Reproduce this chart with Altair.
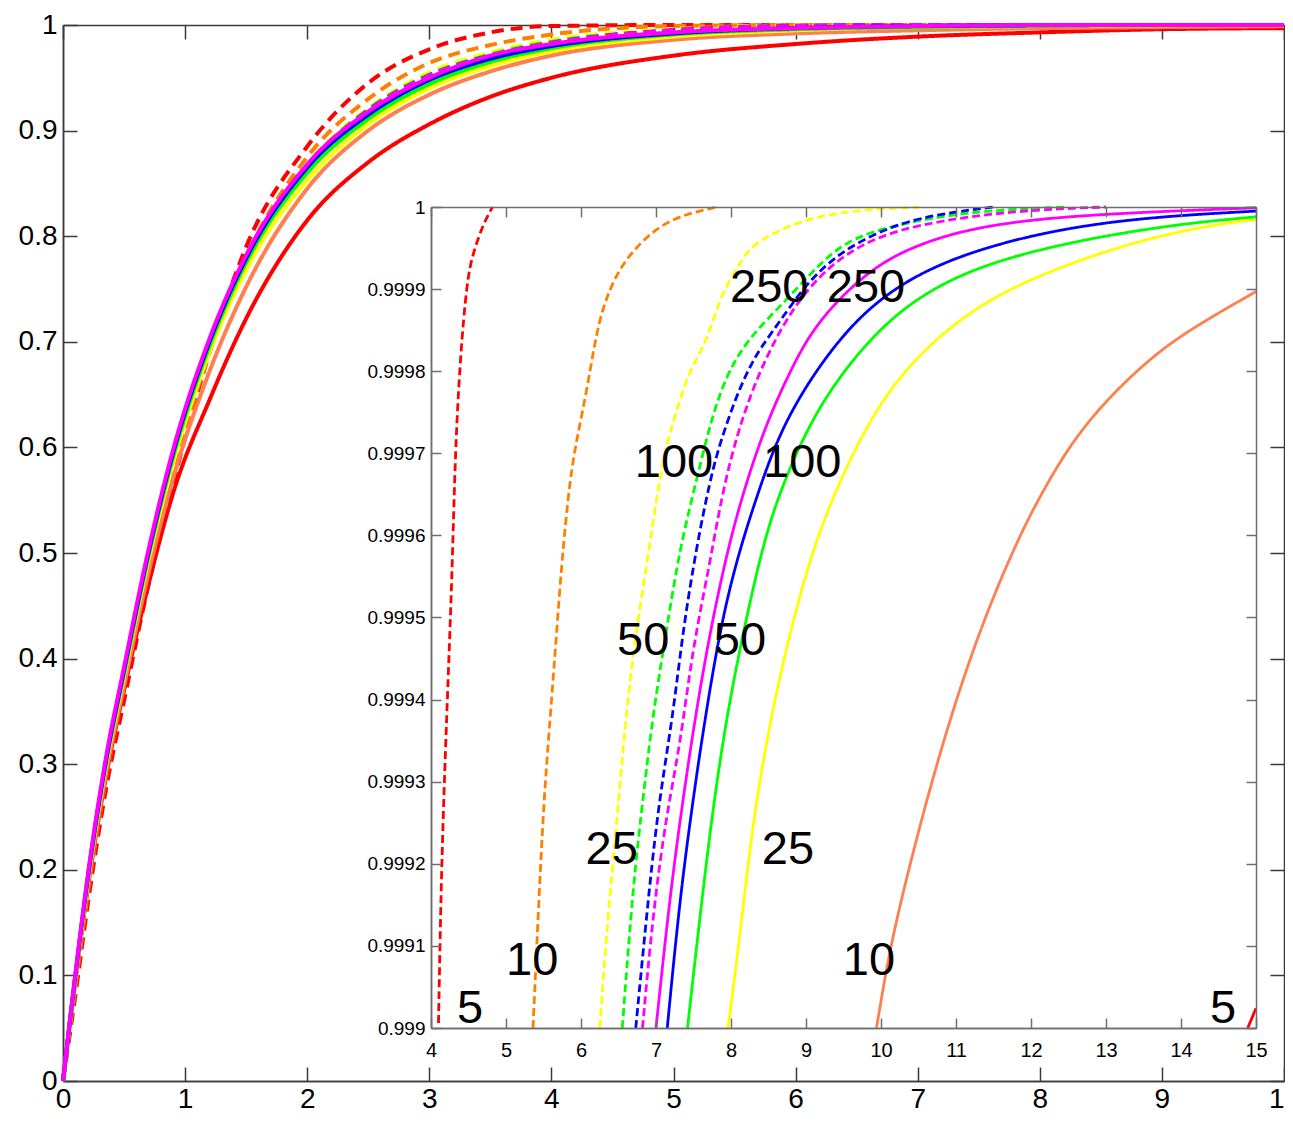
import altair as alt
import pandas as pd

# ---------------- data ----------------
MAIN_X = [0, 0.1, 0.2, 0.35, 0.5, 0.7, 0.9, 1.2, 1.5, 2.0, 2.5, 3.0, 3.5, 4.0, 5.0, 6.0, 7.0, 8.0, 9.0, 10.0]
MAIN_D5 = [0, 0.080, 0.165, 0.275, 0.360, 0.470, 0.565, 0.690, 0.790, 0.885, 0.945, 0.977, 0.993, 0.999, 1.0, 1.0, 1.0, 1.0, 1.0, 1.0]
MAIN_D10 = [0, 0.088, 0.175, 0.285, 0.372, 0.480, 0.575, 0.690, 0.780, 0.875, 0.930, 0.964, 0.981, 0.991, 0.999, 1.0, 1.0, 1.0, 1.0, 1.0]
MAIN_D25 = [0, 0.094, 0.182, 0.293, 0.380, 0.490, 0.585, 0.695, 0.779, 0.868, 0.921, 0.955, 0.974, 0.986, 0.996, 0.9995, 1.0, 1.0, 1.0, 1.0]
MAIN_D50 = [0, 0.095, 0.184, 0.296, 0.383, 0.494, 0.588, 0.697, 0.780, 0.867, 0.920, 0.953, 0.972, 0.984, 0.995, 0.9992, 0.9999, 1.0, 1.0, 1.0]
MAIN_D100 = [0, 0.096, 0.186, 0.298, 0.385, 0.496, 0.590, 0.698, 0.780, 0.866, 0.919, 0.952, 0.971, 0.983, 0.995, 0.999, 0.9999, 1.0, 1.0, 1.0]
MAIN_D250 = [0, 0.097, 0.187, 0.299, 0.386, 0.497, 0.591, 0.699, 0.781, 0.866, 0.919, 0.952, 0.971, 0.983, 0.995, 0.999, 0.9999, 1.0, 1.0, 1.0]
MAIN_S5 = [0, 0.094, 0.180, 0.287, 0.370, 0.470, 0.556, 0.645, 0.722, 0.815, 0.870, 0.906, 0.932, 0.950, 0.971, 0.982, 0.989, 0.993, 0.996, 0.997]
MAIN_S10 = [0, 0.095, 0.182, 0.290, 0.374, 0.481, 0.570, 0.672, 0.752, 0.845, 0.900, 0.934, 0.956, 0.971, 0.986, 0.992, 0.995, 0.997, 0.998, 0.999]
MAIN_S25 = [0, 0.097, 0.186, 0.297, 0.383, 0.493, 0.585, 0.690, 0.768, 0.853, 0.906, 0.940, 0.961, 0.975, 0.989, 0.995, 0.998, 0.999, 0.9996, 0.9998]
MAIN_S50 = [0, 0.098, 0.188, 0.300, 0.386, 0.497, 0.590, 0.696, 0.775, 0.860, 0.911, 0.944, 0.965, 0.978, 0.991, 0.996, 0.998, 0.9995, 0.9999, 1.0]
MAIN_S100 = [0, 0.099, 0.190, 0.302, 0.389, 0.500, 0.594, 0.700, 0.779, 0.865, 0.915, 0.948, 0.968, 0.980, 0.992, 0.997, 0.999, 0.9997, 1.0, 1.0]
MAIN_S250 = [0, 0.100, 0.192, 0.305, 0.392, 0.503, 0.597, 0.703, 0.782, 0.868, 0.918, 0.950, 0.971, 0.982, 0.993, 0.997, 0.999, 1.0, 1.0, 1.0]

# inset (zoom on the upper tail)
IN_D5_X = [4.10, 4.14, 4.21, 4.28, 4.32, 4.39, 4.48, 4.56, 4.70, 4.82]
IN_D5_Y = [0.999006, 0.999201, 0.999384, 0.999546, 0.999696, 0.999818, 0.999911, 0.999944, 0.99998, 1.0]
IN_D10_X = [5.36, 5.45, 5.52, 5.63, 5.74, 5.85, 5.94, 6.08, 6.21, 6.34, 6.56, 7.05, 7.51, 7.81]
IN_D10_Y = [0.999, 0.99918, 0.9993, 0.999424, 0.999566, 0.999667, 0.999716, 0.999777, 0.99985, 0.999891, 0.999935, 0.99998, 0.999994, 1.0]
IN_D25_X = [6.25, 6.36, 6.47, 6.56, 6.70, 6.88, 7.05, 7.19, 7.32, 7.45, 7.59, 7.72, 7.85, 7.96, 8.17, 8.34, 8.92, 9.59, 10.5]
IN_D25_Y = [0.999, 0.99914, 0.999241, 0.999343, 0.999464, 0.999566, 0.999672, 0.999728, 0.999765, 0.999801, 0.999822, 0.99985, 0.999887, 0.999907, 0.99994, 0.999958, 0.999984, 0.999996, 1.0]
IN_D50_X = [6.55, 6.70, 6.83, 6.96, 7.14, 7.32, 7.54, 7.72, 7.94, 8.25, 8.70, 9.14, 9.59, 10.48, 11.36, 12.5]
IN_D50_Y = [0.999, 0.99918, 0.999282, 0.999383, 0.999485, 0.999586, 0.999667, 0.999736, 0.999797, 0.999842, 0.999883, 0.999927, 0.999964, 0.999984, 0.999996, 1.0]
IN_D100_X = [6.73, 6.92, 7.05, 7.23, 7.36, 7.54, 7.72, 7.85, 8.08, 8.25, 8.39, 8.70, 9.01, 9.38, 9.82, 10.48, 11.5]
IN_D100_Y = [0.999, 0.99918, 0.999282, 0.999383, 0.999485, 0.999586, 0.999667, 0.999712, 0.999772, 0.999805, 0.999828, 0.999867, 0.999907, 0.999939, 0.999964, 0.999988, 1.0]
IN_D250_X = [6.82, 6.96, 7.14, 7.32, 7.49, 7.72, 7.91, 8.25, 8.84, 9.59, 10.48, 11.81, 13.0]
IN_D250_Y = [0.999, 0.99914, 0.999261, 0.999343, 0.999464, 0.999566, 0.999667, 0.999777, 0.999887, 0.999952, 0.99998, 0.999996, 1.0]
IN_S5_X = [14.89, 15.0]
IN_S5_Y = [0.999, 0.999024]
IN_S10_X = [9.94, 10.12, 10.39, 10.68, 11.05, 11.45, 11.85, 12.16, 12.69, 13.59, 14.25, 15.0]
IN_S10_Y = [0.999, 0.999099, 0.999201, 0.999302, 0.999415, 0.999516, 0.9996, 0.999655, 0.999736, 0.999818, 0.999858, 0.999897]
IN_S25_X = [7.96, 8.13, 8.30, 8.6, 9.0, 9.38, 10.04, 10.93, 11.81, 13.14, 14.25, 15.0]
IN_S25_Y = [0.999, 0.999119, 0.999261, 0.999413, 0.999559, 0.999655, 0.999777, 0.999858, 0.999907, 0.999952, 0.999976, 0.999985]
IN_S50_X = [7.42, 7.64, 7.81, 8.02, 8.39, 8.65, 9.14, 9.82, 10.48, 11.36, 12.69, 14.03, 15.0]
IN_S50_Y = [0.999, 0.99918, 0.999302, 0.999421, 0.999578, 0.999655, 0.999756, 0.999838, 0.999891, 0.999931, 0.999961, 0.99998, 0.999988]
IN_S100_X = [7.15, 7.32, 7.50, 7.63, 7.85, 8.08, 8.34, 8.70, 9.38, 10.04, 10.93, 12.25, 13.59, 15.0]
IN_S100_Y = [0.999, 0.99916, 0.999282, 0.999363, 0.999485, 0.999572, 0.999647, 0.99974, 0.999835, 0.999895, 0.999939, 0.999972, 0.999988, 0.999995]
IN_S250_X = [7.0, 7.19, 7.38, 7.54, 7.72, 7.94, 8.16, 8.45, 8.8, 9.14, 9.82, 10.48, 11.36, 12.69, 15.0]
IN_S250_Y = [0.999, 0.999165, 0.999292, 0.999388, 0.999482, 0.999577, 0.999652, 0.999732, 0.999803, 0.99986, 0.999923, 0.999955, 0.999978, 0.999991, 0.999999]

LABELS = ["250", "250", "100", "100", "50", "50", "25", "25", "10", "10", "5", "5"]
LABEL_X = [8.51, 9.80, 7.24, 8.95, 6.83, 8.12, 6.41, 8.76, 5.35, 9.84, 4.52, 14.56]
LABEL_Y = [0.999905, 0.999905, 0.999692, 0.999692, 0.999475, 0.999475, 0.99922, 0.99922,
           0.999085, 0.999085, 0.999027, 0.999027]

MAIN_XTICKS = [0, 1, 2, 3, 4, 5, 6, 7, 8, 9, 10]
MAIN_YTICKS = [0, 0.1, 0.2, 0.3, 0.4, 0.5, 0.6, 0.7, 0.8, 0.9, 1]
INSET_XTICKS = [4, 5, 6, 7, 8, 9, 10, 11, 12, 13, 14, 15]
INSET_YTICKS = [0.999, 0.9991, 0.9992, 0.9993, 0.9994, 0.9995, 0.9996, 0.9997, 0.9998, 0.9999, 1]

KEYS = ["d5", "d10", "d25", "d50", "d100", "d250", "s5", "s10", "s25", "s50", "s100", "s250"]
COLORS = ["#FF0000", "#FF8000", "#FFFF00", "#00FF00", "#0000FF", "#FF00FF",
          "#FF0000", "#FF7F50", "#FFFF00", "#00FF00", "#0000FF", "#FF00FF"]

# ---------------- tables ----------------
main_ys = [MAIN_D5, MAIN_D10, MAIN_D25, MAIN_D50, MAIN_D100, MAIN_D250,
           MAIN_S5, MAIN_S10, MAIN_S25, MAIN_S50, MAIN_S100, MAIN_S250]
rows = []
for k, ys in zip(KEYS, main_ys):
    for x, y in zip(MAIN_X, ys):
        rows.append({"key": k, "style": "dashed" if k.startswith("d") else "solid", "x": x, "y": y})
main_df = pd.DataFrame(rows)

inset_xy = [(IN_D5_X, IN_D5_Y), (IN_D10_X, IN_D10_Y), (IN_D25_X, IN_D25_Y), (IN_D50_X, IN_D50_Y),
            (IN_D100_X, IN_D100_Y), (IN_D250_X, IN_D250_Y), (IN_S5_X, IN_S5_Y), (IN_S10_X, IN_S10_Y),
            (IN_S25_X, IN_S25_Y), (IN_S50_X, IN_S50_Y), (IN_S100_X, IN_S100_Y), (IN_S250_X, IN_S250_Y)]
rows = []
for k, (xs, ys) in zip(KEYS, inset_xy):
    for x, y in zip(xs, ys):
        rows.append({"key": k, "style": "dashed" if k.startswith("d") else "solid", "x": x, "y": y})
inset_df = pd.DataFrame(rows)

label_df = pd.DataFrame({"x": LABEL_X, "y": LABEL_Y, "t": LABELS})
box_df = pd.DataFrame({"x": [INSET_XTICKS[0]], "x2": [INSET_XTICKS[-1]],
                       "y": [INSET_YTICKS[0]], "y2": [INSET_YTICKS[-1]]})
dummy_main = pd.DataFrame({"x": [0], "y": [0]})
dummy_inset = pd.DataFrame({"x": [4], "y": [0.999]})

# ---------------- layout ----------------
W, H = 1221, 1056
IX0, IX1, IY0, IY1 = 368, 1193, 182, 1003
FONT = "Liberation Sans, Arial, sans-serif"
MAIN_AX = "#3a3a3a"
INSET_AX = "#6e6e6e"

mx = alt.Scale(domain=[0, 10], nice=False, zero=False)
my = alt.Scale(domain=[0, 1], nice=False, zero=False)
ix = alt.Scale(domain=[4, 15], range=[IX0, IX1], nice=False, zero=False)
iy = alt.Scale(domain=[0.999, 1], range=[IY1, IY0], nice=False, zero=False)


def label_axis(orient, offset, values, fmt, size, pad, color, z):
    return alt.Axis(orient=orient, offset=offset, values=values, format=fmt,
                    labelFontSize=size, labelFont=FONT, labelColor="black", labelPadding=pad,
                    labelFlush=False, labelOverlap=False, ticks=False, tickSize=0,
                    domain=True, domainColor=color, domainWidth=1.5, grid=False,
                    title=None, zindex=z)


def tick_axis(orient, offset, values, size, color, z):
    return alt.Axis(orient=orient, offset=offset, values=values, labels=False,
                    ticks=True, tickSize=size, tickColor=color, tickWidth=1.5,
                    domain=True, domainColor=color, domainWidth=1.5, grid=False,
                    title=None, zindex=z)


main_lines = alt.Chart(main_df).mark_line(strokeWidth=4, interpolate="monotone").encode(
    x=alt.X("x:Q", scale=mx, axis=label_axis("bottom", 0, MAIN_XTICKS, "d", 28, 4, MAIN_AX, 0)),
    y=alt.Y("y:Q", scale=my, axis=label_axis("left", 0, MAIN_YTICKS, "~g", 28, 6, MAIN_AX, 0)),
    color=alt.Color("key:N", scale=alt.Scale(domain=KEYS, range=COLORS), legend=None),
    strokeDash=alt.StrokeDash("style:N", scale=alt.Scale(domain=["dashed", "solid"],
                                                         range=[[12, 7], [1, 0]]), legend=None),
)

main_ticks_a = alt.Chart(dummy_main).mark_point(opacity=0).encode(
    x=alt.X("x:Q", scale=mx, axis=tick_axis("top", -H, MAIN_XTICKS, 14, MAIN_AX, 0)),
    y=alt.Y("y:Q", scale=my, axis=tick_axis("right", -W, MAIN_YTICKS, 14, MAIN_AX, 0)),
)
main_ticks_b = alt.Chart(dummy_main).mark_point(opacity=0).encode(
    x=alt.X("x:Q", scale=mx, axis=tick_axis("bottom", -H, MAIN_XTICKS, 14, MAIN_AX, 0)),
    y=alt.Y("y:Q", scale=my, axis=tick_axis("left", -W, MAIN_YTICKS, 14, MAIN_AX, 0)),
)

inset_box = alt.Chart(box_df).mark_rect(fill="white").encode(
    x=alt.X("x:Q", scale=ix, axis=label_axis("bottom", IY1 - H, INSET_XTICKS, "d", 20, 12, INSET_AX, 1)),
    x2="x2:Q",
    y=alt.Y("y:Q", scale=iy, axis=label_axis("left", -IX0, INSET_YTICKS, "~g", 19, 6, INSET_AX, 1)),
    y2="y2:Q",
)
inset_ticks_a = alt.Chart(dummy_inset).mark_point(opacity=0).encode(
    x=alt.X("x:Q", scale=ix, axis=tick_axis("top", -IY1, INSET_XTICKS, 10, INSET_AX, 1)),
    y=alt.Y("y:Q", scale=iy, axis=tick_axis("right", IX0 - W, INSET_YTICKS, 10, INSET_AX, 1)),
)
inset_ticks_b = alt.Chart(dummy_inset).mark_point(opacity=0).encode(
    x=alt.X("x:Q", scale=ix, axis=tick_axis("bottom", IY0 - H, INSET_XTICKS, 10, INSET_AX, 1)),
    y=alt.Y("y:Q", scale=iy, axis=tick_axis("left", -IX1, INSET_YTICKS, 10, INSET_AX, 1)),
)

inset_lines = alt.Chart(inset_df).mark_line(strokeWidth=2.8, interpolate="basis").encode(
    x=alt.X("x:Q", scale=ix, axis=None),
    y=alt.Y("y:Q", scale=iy, axis=None),
    color=alt.Color("key:N", scale=alt.Scale(domain=KEYS, range=COLORS), legend=None),
    strokeDash=alt.StrokeDash("style:N", scale=alt.Scale(domain=["dashed", "solid"],
                                                         range=[[8, 4], [1, 0]]), legend=None),
)

inset_text = alt.Chart(label_df).mark_text(fontSize=47, font=FONT, color="black",
                                           align="center", baseline="middle", dy=3).encode(
    x=alt.X("x:Q", scale=ix, axis=None),
    y=alt.Y("y:Q", scale=iy, axis=None),
    text="t:N",
)

chart = alt.layer(
    main_lines, main_ticks_a, main_ticks_b,
    inset_box, inset_ticks_a, inset_ticks_b, inset_lines, inset_text,
).resolve_scale(
    x="independent", y="independent", color="independent", strokeDash="independent"
).properties(
    width=W, height=H,
    padding={"left": 55, "top": 17, "right": 1, "bottom": 36},
    autosize=alt.AutoSizeParams(type="none"),
    background="white",
).configure_view(stroke=None)

chart.save("out.html", embed_options={"renderer": "svg", "actions": False})
